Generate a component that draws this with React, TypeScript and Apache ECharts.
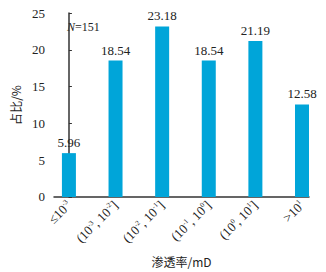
import React, { useEffect, useRef } from "react";
import * as echarts from "echarts";

const categories = [
  "{n|≤10}{s|-3}",
  "{n|(10}{s|-3}{n|, 10}{s|-2}{n|]}",
  "{n|(10}{s|-2}{n|, 10}{s|-1}{n|]}",
  "{n|(10}{s|-1}{n|, 10}{s|0}{n|]}",
  "{n|(10}{s|0}{n|, 10}{s|1}{n|]}",
  "{n|>10}{s|1}",
];
const values = [5.96, 18.54, 23.18, 18.54, 21.19, 12.58];
const yTicks = [0, 5, 10, 15, 20, 25];

export default function App() {
  const ref = useRef<HTMLDivElement>(null);
  useEffect(() => {
    if (!ref.current) return;
    const chart = echarts.init(ref.current, null, { renderer: "svg" });
    const serif = "Liberation Serif";
    const cjk = "Noto Sans CJK SC";
    chart.setOption({
      animation: false,
      backgroundColor: "#fff",
      textStyle: { fontFamily: serif },
      grid: { left: 54, right: 17, top: 13, bottom: 74 },
      xAxis: {
        type: "value",
        min: -0.32,
        max: 5.15,
        axisLine: { show: true, lineStyle: { color: "#333", width: 1.5 } },
        axisTick: { show: false },
        splitLine: { show: false },
        axisLabel: {
          customValues: categories.map((_, i) => i),
          formatter: (v: number) => categories[Math.round(v)] ?? "",
          rotate: 45,
          margin: 6,
          color: "#222",
          fontFamily: serif,
          fontSize: 13,
          rich: {
            n: { fontFamily: serif, fontSize: 13, color: "#222" },
            s: { fontFamily: serif, fontSize: 7, color: "#222", verticalAlign: "top" },
          },
        },
        name: "渗透率/mD",
        nameLocation: "middle",
        nameGap: 58,
        nameTextStyle: { fontFamily: cjk, fontSize: 12, color: "#222" },
      },
      yAxis: {
        type: "value",
        min: yTicks[0],
        max: yTicks[yTicks.length - 1],
        interval: 5,
        axisLine: { show: true, lineStyle: { color: "#333", width: 1.5 } },
        axisTick: { show: true, inside: true, length: 3, lineStyle: { color: "#333" } },
        splitLine: { show: false },
        axisLabel: { margin: 9, color: "#222", fontFamily: serif, fontSize: 13 },
        name: "占比/%",
        nameLocation: "middle",
        nameGap: 32,
        nameTextStyle: { fontFamily: cjk, fontSize: 12, color: "#222" },
      },
      series: [
        {
          type: "bar",
          data: values.map((v, i) => [i, v]),
          barWidth: 14,
          itemStyle: { color: "#00A5D9" },
          label: {
            show: true,
            position: "top",
            distance: 4,
            color: "#222",
            fontFamily: serif,
            fontSize: 13,
            formatter: (p: any) => p.value[1].toFixed(2),
          },
        },
      ],
      graphic: [
        {
          type: "text",
          left: 67,
          top: 21,
          style: {
            text: "{i|N}=151",
            fontFamily: serif,
            fontSize: 12,
            fill: "#222",
            rich: { i: { fontStyle: "italic", fontFamily: serif, fontSize: 12, fill: "#222" } },
          },
        },
      ],
    });
    return () => chart.dispose();
  }, []);
  return (
    <div
      ref={ref}
      style={{ position: "fixed", left: 0, top: 0, width: 326, height: 272 }}
    />
  );
}
